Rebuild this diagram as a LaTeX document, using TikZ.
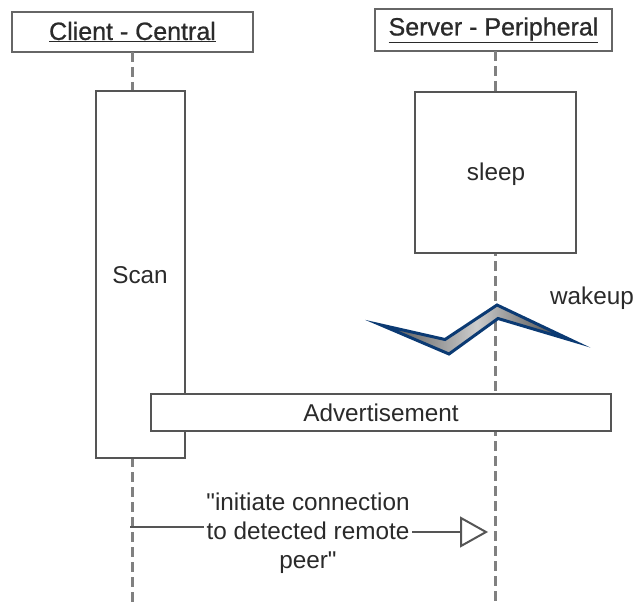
\documentclass[tikz,border=0pt]{standalone}
\usepackage{fontspec}
\newfontfamily\plainfont{Liberation Sans}
\newfontfamily\headfont[FakeBold=0.8]{Liberation Sans}
\usetikzlibrary{calc}
\definecolor{boxline}{HTML}{555555}
\definecolor{life}{HTML}{808080}
\definecolor{txt}{HTML}{2A2A2A}
\definecolor{navy}{HTML}{0B3A73}
\tikzset{
  x=1pt,y=-1pt,
  box/.style={draw=boxline,line width=2pt,fill=white,text=txt,inner sep=0pt,outer sep=0pt,anchor=north west,align=center,font=\plainfont\fontsize{24.3}{29}\selectfont},
  headbox/.style={box,line width=2.4pt,draw=black!60},
  lifeline/.style={draw=life,line width=3pt,dash pattern=on 10pt off 5pt},
  msg/.style={draw=boxline,line width=2pt},
  lbl/.style={text=txt,align=center,font=\plainfont\fontsize{24.3}{29}\selectfont},
  headlbl/.style={text=txt,font=\headfont\fontsize{25}{29}\selectfont},
}
\begin{document}
\begin{tikzpicture}
\useasboundingbox (0,0) rectangle (634,604);
\node[headbox,minimum width=241pt,minimum height=40pt] (client) at (12,12) {};
\node[headbox,minimum width=237pt,minimum height=42pt] (server) at (375,9) {};
\node[headlbl] (clientlabel) at (client.center) {\underline{Client - Central}};
\node[headlbl] (serverlabel) at (server.center) {\underline{Server - Peripheral}};
\coordinate (clientend) at (132,602);
\coordinate (serverend) at (495,604);
\draw[lifeline] (client.south -| clientend) -- (clientend);
\draw[lifeline] (server.south -| serverend) -- (serverend);
\node[box,minimum width=89pt,minimum height=367pt] (scan) at (96,91) {};
\node[lbl] (scanlabel) at (140,275) {Scan};
\node[box,minimum width=161pt,minimum height=161pt] (sleep) at (415,92) {};
\node[lbl] (sleeplabel) at (496,174) {sleep};
\path[left color=black!70,right color=black!78,middle color=black!20,draw=navy,line width=3pt,miter limit=20,line join=miter]
  (381,325) -- (449,354) -- (498,318.5) -- (572,340.5) -- (497,305) -- (445,339.5) -- cycle;
\node[lbl] (wakeuplabel) at (592,298) {wakeup};
\node[box,minimum width=460pt,minimum height=37pt] (adv) at (151,394) {Advertisement};
\coordinate (msgstart) at (130,527);
\coordinate (msgend) at (486,532);
\draw[msg] (msgstart) -- (300,527) -- (300,531.5) -- (461,531.5);
\draw[msg,fill=white,line join=miter] (461,518) -- (msgend) -- (461,546) -- cycle;
\node[lbl,fill=white,inner sep=2pt] (msglabel) at (308,533.5) {"initiate connection\\to detected remote\\peer"};
\end{tikzpicture}
\end{document}
